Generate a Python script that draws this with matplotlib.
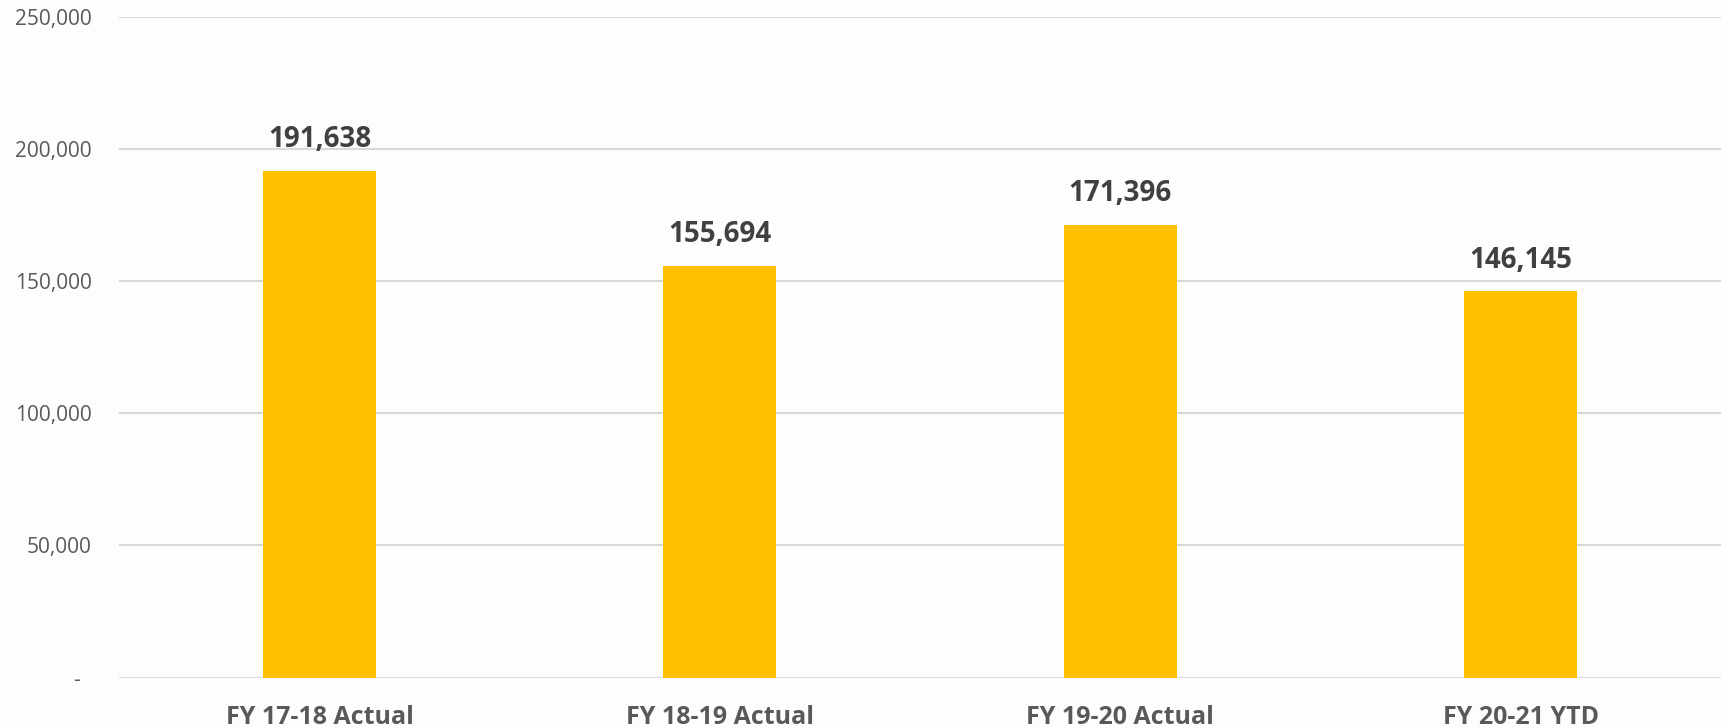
import matplotlib
matplotlib.use("Agg")
import matplotlib.pyplot as plt
from matplotlib.ticker import FuncFormatter

# chart data
categories = ["FY 17-18 Actual", "FY 18-19 Actual", "FY 19-20 Actual", "FY 20-21 YTD"]
values = [191638, 155694, 171396, 146145]
y_ticks = [0, 50000, 100000, 150000, 200000, 250000]

plt.rcParams['font.family'] = ['Open Sans', 'DejaVu Sans']

fig = plt.figure(figsize=(17.21, 7.28), dpi=100)
fig.patch.set_facecolor('#fdfdfd')
ax = fig.add_axes([0.0693, 0.0691, 0.9307, 0.908])
ax.set_facecolor('#fdfdfd')

x = range(len(categories))
bars = ax.bar(x, values, width=0.282, color='#FFC000', zorder=3)

# value labels above bars
for b, v in zip(bars, values):
    ax.annotate(f"{v:,}", (b.get_x() + b.get_width() / 2, v),
                xytext=(0, 12), textcoords='offset points',
                ha='center', va='bottom', fontsize=20, fontweight='bold',
                color='#404040')

ax.set_xlim(-0.5, len(categories) - 0.5)
ax.set_ylim(0, 250000)
ax.set_yticks(y_ticks)
ax.yaxis.set_major_formatter(FuncFormatter(lambda v, p: "-  " if v == 0 else f"{int(v):,}"))
ax.set_xticks(list(x))
ax.set_xticklabels(categories, fontsize=18, fontweight='bold', color='#595959')

ax.tick_params(axis='y', length=0, pad=20, labelsize=15, labelcolor='#595959')
ax.tick_params(axis='x', length=0, pad=20)

ax.grid(axis='y', color='#d9d9d9', linewidth=1.5, zorder=0)
for s in ax.spines.values():
    s.set_visible(False)

fig.savefig("out.png", dpi=100, facecolor=fig.get_facecolor())
